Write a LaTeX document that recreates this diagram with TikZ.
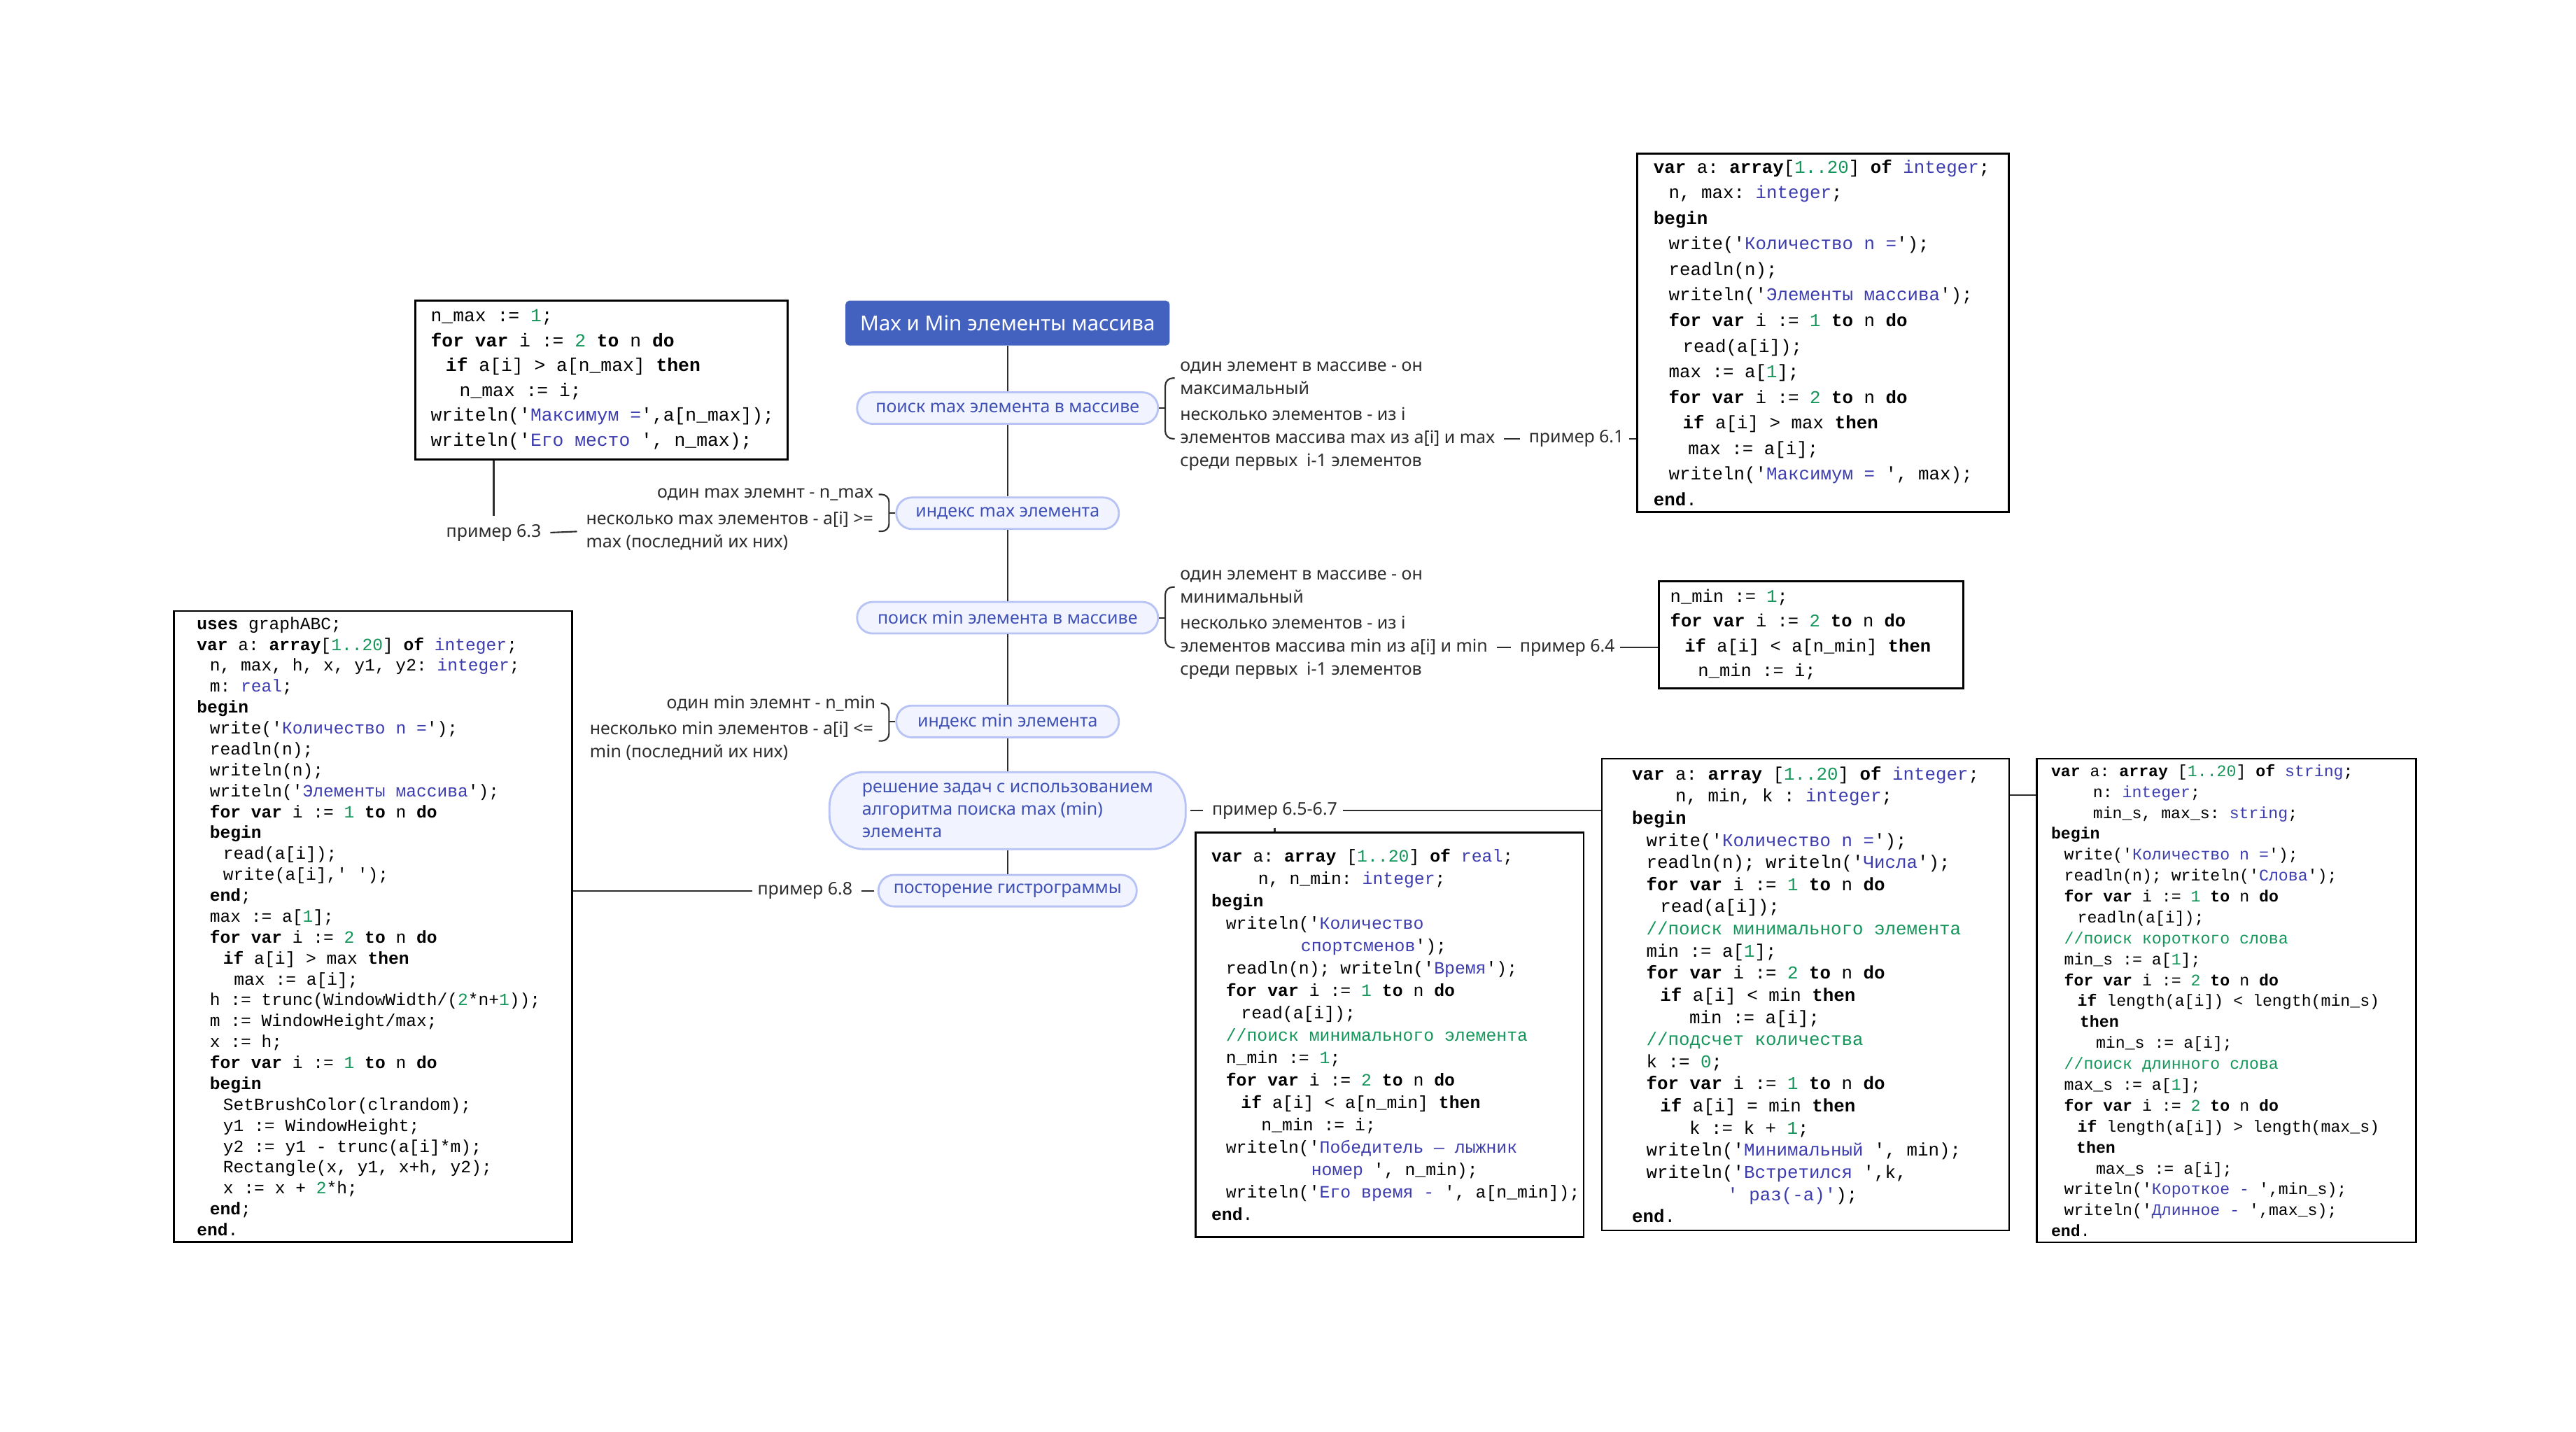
\documentclass[tikz,border=0pt]{standalone}
\usepackage{fontspec}
\setmainfont{Noto Sans}
\setmonofont{Liberation Mono}

\definecolor{rootblue}{RGB}{67,97,190}
\definecolor{pillfill}{RGB}{241,243,254}
\definecolor{pillline}{RGB}{183,194,245}
\definecolor{pilltext}{RGB}{63,81,181}
\definecolor{leafgray}{RGB}{45,45,45}
\definecolor{codegreen}{RGB}{20,150,90}
\definecolor{codeblue}{RGB}{60,60,175}

\newcommand\kw[1]{\textbf{#1}}
\newcommand\nb[1]{\textcolor{codegreen}{#1}}
\newcommand\sq[1]{\textcolor{codeblue}{#1}}
\newcommand\ind[1]{\hspace*{#1\dimexpr.6em\relax}}

\begin{document}
\begin{tikzpicture}[x=0.00995cm, y=-0.00995cm,
 wire/.style={draw=leafgray, line width=0.6pt},
 gapwire/.style={wire, shorten <=1.5pt, shorten >=1.5pt},
 topicbox/.style={fill=rootblue, text=white, rounded corners=1.5pt, minimum width=4.63cm, minimum height=0.64cm, font=\bfseries\fontsize{8.4}{10}\selectfont},
 subtopic/.style={draw=pillline, fill=pillfill, text=pilltext, line width=0.8pt, rounded corners=6.3pt, minimum height=0.45cm, font=\fontsize{7.1}{9}\selectfont},
 leaftext/.style={align=left, text=leafgray, inner xsep=2pt, font=\fontsize{7.1}{9.4}\selectfont},
 codeframe/.style={draw, line width=0.8pt, anchor=north west},
 codetext/.style={anchor=west, align=left, inner sep=0pt}]
 \path[fill=white, use as bounding box] (0,0) rectangle (3699.5,2055.3);

 \node[topicbox] (root) at (1447,464) {Max и Min элементы массива};
 \node[subtopic, minimum width=4.30cm] (maxfind) at (1447,586) {поиск max элемента в массиве};
 \node[subtopic, minimum width=3.18cm] (maxidx) at (1447,737) {индекс max элемента};
 \node[subtopic, minimum width=4.30cm] (minfind) at (1447,887) {поиск min элемента в массиве};
 \node[subtopic, minimum width=3.18cm] (minidx) at (1447,1036) {индекс min элемента};
 \node[subtopic, minimum width=5.09cm, minimum height=1.1cm, rounded corners=14pt, align=left, font=\fontsize{7.1}{9.1}\selectfont] (tasks) at (1447,1164) {решение задач с использованием\\алгоритма поиска max (min)\\элемента};
 \node[subtopic, minimum width=3.69cm] (hist) at (1447,1279) {посторение гистрограммы};
 \foreach \a/\b in {root/maxfind, maxfind/maxidx, maxidx/minfind, minfind/minidx, minidx/tasks, tasks/hist}
 {
     \draw[wire] (\a.south) -- (\b.north);
 }

 \node[leaftext, anchor=west] (maxone) at (1687,543) {один элемент в массиве - он\\максимальный};
 \node[leaftext, anchor=west] (maxmany) at (1687,630) {несколько элементов - из i\\элементов массива max из a[i] и max\\среди первых~ i-1 элементов};
 \node[leaftext, anchor=west] (ex61) at (2188,630) {пример 6.1};
 \node[leaftext, anchor=east] (imaxone) at (1262,710) {один max элемнт - n\_max};
 \node[leaftext, anchor=east] (imaxmany) at (1262,763) {несколько max элементов - a[i] >=\\max (последний их них)};
 \node[leaftext, anchor=east] (ex63) at (785,765) {пример 6.3};
 \node[leaftext, anchor=west] (minone) at (1687,843) {один элемент в массиве - он\\минимальный};
 \node[leaftext, anchor=west] (minmany) at (1687,930) {несколько элементов - из i\\элементов массива min из a[i] и min\\среди первых~ i-1 элементов};
 \node[leaftext, anchor=west] (ex64) at (2175,930) {пример 6.4};
 \node[leaftext, anchor=east] (iminone) at (1265,1010) {один min элемнт - n\_min};
 \node[leaftext, anchor=east] (iminmany) at (1262,1064) {несколько min элементов - a[i] <=\\min (последний их них)};
 \node[leaftext, anchor=west] (ex65) at (1733,1164) {пример 6.5-6.7};
 \node[leaftext, anchor=east] (ex68) at (1232,1279) {пример 6.8};

 \foreach \p/\u/\v in {maxfind/maxone/maxmany, minfind/minone/minmany}
 {
     \draw[wire] (\p.east) -- ++(9,0) coordinate (br);
     \draw[wire, rounded corners=3pt] (\u.west) -| (br |- \v.west) -- (\v.west);
 }
 \foreach \p/\u/\v in {maxidx/imaxone/imaxmany, minidx/iminone/iminmany}
 {
     \draw[wire] (\p.west) -- ++(-9,0) coordinate (bl);
     \draw[wire, rounded corners=3pt] (\u.east) -| (bl |- \v.east) -- (\v.east);
 }

 \node[codeframe, minimum width=5.32cm, minimum height=2.27cm] (codenmax) at (595,430) {};
 \node[codetext, font=\ttfamily\fontsize{7.5}{10.1}\selectfont] (codenmaxtxt) at ([shift={(23,0)}]codenmax.west) {%
 n\_max := \nb{1};\\
 \kw{for var} i := \nb{2} \kw{to} n \kw{do}\\
 \ind{1.35}\kw{if} a[i] > a[n\_max] \kw{then}\\
 \ind{2.6}n\_max := i;\\
 writeln('\sq{Максимум =}',a[n\_max]);\\
 writeln('\sq{Его место }', n\_max);};

 \node[codeframe, minimum width=5.31cm, minimum height=5.12cm] (codemax) at (2350,219) {};
 \node[codetext, font=\ttfamily\fontsize{7.35}{10.4}\selectfont] (codemaxtxt) at ([shift={(24,0)}]codemax.west) {%
 \kw{var} a: \kw{array}[\nb{1..20}] \kw{of} \sq{integer};\\
 \ind{1.4}n, max: \sq{integer};\\
 \kw{begin}\\
 \ind{1.4}write('\sq{Количество n =}');\\
 \ind{1.4}readln(n);\\
 \ind{1.4}writeln('\sq{Элементы массива}');\\
 \ind{1.4}\kw{for var} i := \nb{1} \kw{to} n \kw{do}\\
 \ind{2.7}read(a[i]);\\
 \ind{1.4}max := a[\nb{1}];\\
 \ind{1.4}\kw{for var} i := \nb{2} \kw{to} n \kw{do}\\
 \ind{2.7}\kw{if} a[i] > max \kw{then}\\
 \ind{3.2}max := a[i];\\
 \ind{1.4}writeln('\sq{Максимум = }', max);\\
 \kw{end}.};

 \node[codeframe, minimum width=4.35cm, minimum height=1.53cm] (codenmin) at (2381,833) {};
 \node[codetext, font=\ttfamily\fontsize{7.25}{10.1}\selectfont] (codenmintxt) at ([shift={(17,0)}]codenmin.west) {%
 n\_min := \nb{1};\\
 \kw{for var} i := \nb{2} \kw{to} n \kw{do}\\
 \ind{1.35}\kw{if} a[i] < a[n\_min] \kw{then}\\
 \ind{2.6}n\_min := i;};

 \node[codeframe, minimum width=5.69cm, minimum height=9.01cm] (codehist) at (248,876) {};
 \node[codetext, font=\ttfamily\fontsize{7}{8.5}\selectfont] (codehisttxt) at ([shift={(34,0)}]codehist.west) {%
 \kw{uses} graphABC;\\
 \kw{var} a: \kw{array}[\nb{1..20}] \kw{of} \sq{integer};\\
 \ind{1.25}n, max, h, x, y1, y2: \sq{integer};\\
 \ind{1.25}m: \sq{real};\\
 \kw{begin}\\
 \ind{1.25}write('\sq{Количество n =}');\\
 \ind{1.25}readln(n);\\
 \ind{1.25}writeln(n);\\
 \ind{1.25}writeln('\sq{Элементы массива}');\\
 \ind{1.25}\kw{for var} i := \nb{1} \kw{to} n \kw{do}\\
 \ind{1.25}\kw{begin}\\
 \ind{2.55}read(a[i]);\\
 \ind{2.55}write(a[i],' ');\\
 \ind{1.25}\kw{end};\\
 \ind{1.25}max := a[\nb{1}];\\
 \ind{1.25}\kw{for var} i := \nb{2} \kw{to} n \kw{do}\\
 \ind{2.55}\kw{if} a[i] > max \kw{then}\\
 \ind{3.6}max := a[i];\\
 \ind{1.25}h := trunc(WindowWidth/(\nb{2}*n+\nb{1}));\\
 \ind{1.25}m := WindowHeight/max;\\
 \ind{1.25}x := h;\\
 \ind{1.25}\kw{for var} i := \nb{1} \kw{to} n \kw{do}\\
 \ind{1.25}\kw{begin}\\
 \ind{2.55}SetBrushColor(clrandom);\\
 \ind{2.55}y1 := WindowHeight;\\
 \ind{2.55}y2 := y1 - trunc(a[i]*m);\\
 \ind{2.55}Rectangle(x, y1, x+h, y2);\\
 \ind{2.55}x := x + \nb{2}*h;\\
 \ind{1.25}\kw{end};\\
 \kw{end}.};

 \node[codeframe, minimum width=5.54cm, minimum height=5.78cm] (codesport) at (1716,1194) {};
 \node[codetext, font=\ttfamily\fontsize{7.05}{9.1}\selectfont] (codesporttxt) at ([shift={(23,0)}]codesport.west) {%
 \kw{var} a: \kw{array} [\nb{1..20}] \kw{of} \sq{real};\\
 \ind{4.5}n, n\_min: \sq{integer};\\
 \kw{begin}\\
 \ind{1.4}writeln('\sq{Количество}\\
 \ind{8.6}\sq{спортсменов}');\\
 \ind{1.4}readln(n); writeln('\sq{Время}');\\
 \ind{1.4}\kw{for var} i := \nb{1} \kw{to} n \kw{do}\\
 \ind{2.85}read(a[i]);\\
 \ind{1.4}\nb{//поиск минимального элемента}\\
 \ind{1.4}n\_min := \nb{1};\\
 \ind{1.4}\kw{for var} i := \nb{2} \kw{to} n \kw{do}\\
 \ind{2.85}\kw{if} a[i] < a[n\_min] \kw{then}\\
 \ind{4.8}n\_min := i;\\
 \ind{1.4}writeln('\sq{Победитель — лыжник}\\
 \ind{9.6}\sq{номер }', n\_min);\\
 \ind{1.4}writeln('\sq{Его время - }', a[n\_min]);\\
 \kw{end}.};

 \node[codeframe, minimum width=5.82cm, minimum height=6.74cm] (codecount) at (2299,1088) {};
 \node[codetext, font=\ttfamily\fontsize{7.35}{9}\selectfont] (codecounttxt) at ([shift={(44,0)}]codecount.west) {%
 \kw{var} a: \kw{array} [\nb{1..20}] \kw{of} \sq{integer};\\
 \ind{4}n, min, k : \sq{integer};\\
 \kw{begin}\\
 \ind{1.33}write('\sq{Количество n =}');\\
 \ind{1.33}readln(n); writeln('\sq{Числа}');\\
 \ind{1.33}\kw{for var} i := \nb{1} \kw{to} n \kw{do}\\
 \ind{2.6}read(a[i]);\\
 \ind{1.33}\nb{//поиск минимального элемента}\\
 \ind{1.33}min := a[\nb{1}];\\
 \ind{1.33}\kw{for var} i := \nb{2} \kw{to} n \kw{do}\\
 \ind{2.6}\kw{if} a[i] < min \kw{then}\\
 \ind{5.3}min := a[i];\\
 \ind{1.33}\nb{//подсчет количества}\\
 \ind{1.33}k := \nb{0};\\
 \ind{1.33}\kw{for var} i := \nb{1} \kw{to} n \kw{do}\\
 \ind{2.6}\kw{if} a[i] = min \kw{then}\\
 \ind{5.3}k := k + \nb{1};\\
 \ind{1.33}writeln('\sq{Минимальный }', min);\\
 \ind{1.33}writeln('\sq{Встретился }',k,\\
 \ind{8.8}\sq{' раз(-а)'});\\
 \kw{end}.};

 \node[codeframe, minimum width=5.42cm, minimum height=6.91cm] (codewords) at (2924,1088) {};
 \node[codetext, font=\ttfamily\fontsize{6.6}{8.5}\selectfont] (codewordstxt) at ([shift={(21,0)}]codewords.west) {%
 \kw{var} a: \kw{array} [\nb{1..20}] \kw{of} \sq{string};\\
 \ind{4.3}n: \sq{integer};\\
 \ind{4.3}min\_s, max\_s: \sq{string};\\
 \kw{begin}\\
 \ind{1.34}write('\sq{Количество n =}');\\
 \ind{1.34}readln(n); writeln('\sq{Слова}');\\
 \ind{1.34}\kw{for var} i := \nb{1} \kw{to} n \kw{do}\\
 \ind{2.7}readln(a[i]);\\
 \ind{1.34}\nb{//поиск короткого слова}\\
 \ind{1.34}min\_s := a[\nb{1}];\\
 \ind{1.34}\kw{for var} i := \nb{2} \kw{to} n \kw{do}\\
 \ind{2.7}\kw{if} length(a[i]) < length(min\_s)\\
 \ind{2.95}\kw{then}\\
 \ind{4.6}min\_s := a[i];\\
 \ind{1.34}\nb{//поиск длинного слова}\\
 \ind{1.34}max\_s := a[\nb{1}];\\
 \ind{1.34}\kw{for var} i := \nb{2} \kw{to} n \kw{do}\\
 \ind{2.7}\kw{if} length(a[i]) > length(max\_s)\\
 \ind{2.6}\kw{then}\\
 \ind{4.6}max\_s := a[i];\\
 \ind{1.34}writeln('\sq{Короткое - }',min\_s);\\
 \ind{1.34}writeln('\sq{Длинное - }',max\_s);\\
 \kw{end}.};

 \draw[gapwire] (maxmany.east) -- (ex61.west);
 \draw[wire] (ex61.east) -- (ex61.east -| codemax.west);
 \draw[wire] (ex63.north) -- (ex63.north |- codenmax.south);
 \draw[gapwire] (ex63.east) -- (imaxmany.west);
 \draw[gapwire] (minmany.east) -- (ex64.west);
 \draw[wire] (ex64.east) -- (ex64.east -| codenmin.west);
 \draw[gapwire] (tasks.east) -- (ex65.west);
 \draw[wire] (ex65.south) -- (ex65.south |- codesport.north);
 \draw[wire] (ex65.east) -- (ex65.east -| codecount.west);
 \draw[wire] ([shift={(0,54)}]codecount.north east) -- ([shift={(0,54)}]codewords.north west);
 \draw[gapwire] (hist.west) -- (ex68.east);
 \draw[wire] (ex68.west) -- (ex68.west -| codehist.east);
\end{tikzpicture}
\end{document}
